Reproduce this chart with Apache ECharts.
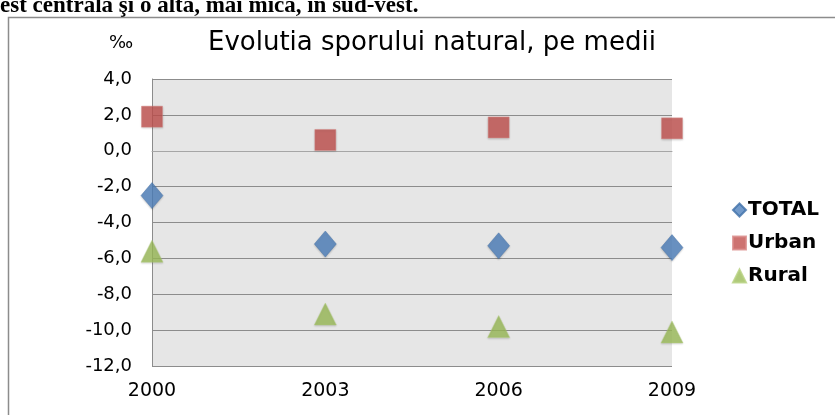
<!DOCTYPE html>
<html>
<head>
<meta charset="utf-8">
<script src="https://cdn.jsdelivr.net/npm/echarts@6/dist/echarts.min.js"></script>
<style>
  html, body { margin: 0; padding: 0; background: #fff; }
  #chart { width: 835px; height: 415px; }
</style>
</head>
<body>
<div id="chart"></div>
<script>
// date
const years = ['2000', '2003', '2006', '2009'];
const totalValues = [-2.5, -5.2, -5.3, -5.4];
const urbanValues = [1.9, 0.6, 1.3, 1.25];
const ruralValues = [-5.6, -9.1, -9.8, -10.1];
const yTicks = [-12, -10, -8, -6, -4, -2, 0, 2, 4];

const chart = echarts.init(document.getElementById('chart'));

const option = {
    animation: false,
    graphic: [
        // textul documentului, taiat sus
        {
            type: 'text', left: 0, top: -5,
            style: { text: 'est centrală şi o alta, mai mică, în sud-vest.', font: 'bold 23px "Liberation Serif"', fill: '#000' }
        },
        // chenarul graficului
        {
            type: 'rect', shape: { x: 8.5, y: 17.5, width: 900, height: 500 },
            style: { fill: 'none', stroke: '#8c8c8c', lineWidth: 1.5 }
        },
        {
            type: 'text', left: 109, top: 34,
            style: { text: '‰', font: '18px "DejaVu Sans"', fill: '#000' }
        }
    ],
    title: {
        text: 'Evolutia sporului natural, pe medii',
        left: 203, top: 25,
        textStyle: { fontFamily: 'DejaVu Sans', fontSize: 26, fontWeight: 'normal', color: '#000' }
    },
    legend: {
        orient: 'vertical',
        left: 727, top: 195,
        itemGap: 13,
        itemWidth: 13, itemHeight: 13,
        textStyle: { fontFamily: 'DejaVu Sans', fontSize: 20, fontWeight: 'bold', color: '#000', padding: [0, 0, 0, -3] },
        data: [
            { name: 'TOTAL', icon: 'diamond' },
            { name: 'Urban', icon: 'rect' },
            { name: 'Rural', icon: 'triangle' }
        ]
    },
    grid: { left: 152, top: 79, width: 520, height: 287, backgroundColor: '#e6e6e6', show: true, borderWidth: 0 },
    xAxis: {
        type: 'category',
        data: years,
        boundaryGap: false,
        axisLine: { show: true, lineStyle: { color: '#a6a6a6', width: 1 } },
        axisTick: { show: false },
        axisLabel: { fontFamily: 'DejaVu Sans', fontSize: 19, color: '#000', margin: 16 },
        splitLine: { show: false }
    },
    yAxis: {
        type: 'value',
        min: yTicks[0], max: yTicks[yTicks.length - 1], interval: 2,
        axisLine: { show: true, lineStyle: { color: '#8c8c8c', width: 1 } },
        axisTick: { show: false },
        axisLabel: {
            fontFamily: 'DejaVu Sans', fontSize: 18, color: '#000', margin: 20,
            formatter: v => v.toFixed(1).replace('.', ',')
        },
        splitLine: { show: true, lineStyle: { color: '#8c8c8c', width: 1 } }
    },
    series: [
        {
            name: 'TOTAL', type: 'scatter', symbol: 'diamond', symbolSize: [22, 26],
            data: totalValues,
            itemStyle: { color: '#4f81bd', borderColor: '#3f6fa8', borderWidth: 0.5, shadowColor: 'rgba(0,0,0,0.25)', shadowBlur: 2, shadowOffsetY: 1 }
        },
        {
            name: 'Urban', type: 'scatter', symbol: 'rect', symbolSize: [21, 21],
            data: urbanValues,
            itemStyle: { color: '#c0504d', borderColor: '#d98a88', borderWidth: 0.5, shadowColor: 'rgba(0,0,0,0.2)', shadowBlur: 2, shadowOffsetY: 1 }
        },
        {
            name: 'Rural', type: 'scatter', symbol: 'triangle', symbolSize: [22, 22],
            data: ruralValues,
            itemStyle: { color: '#9bbb59', borderColor: '#b7d17f', borderWidth: 0.5, shadowColor: 'rgba(0,0,0,0.2)', shadowBlur: 2, shadowOffsetY: 1 }
        }
    ]
};
chart.setOption(option);
</script>
</body>
</html>
